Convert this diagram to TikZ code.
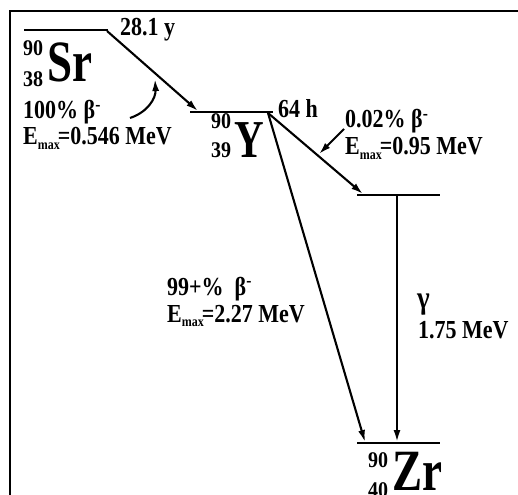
\documentclass[tikz,border=0pt]{standalone}
\usepackage{fontspec}
\setmainfont{Liberation Serif}
\usetikzlibrary{arrows.meta}
\newcommand{\Emx}[1]{E\raisebox{-4pt}{\fontsize{12}{12}\selectfont max}\kern-2pt=#1}
\begin{document}
\begin{tikzpicture}[x=1pt,y=-1pt,
  lvl/.style={line width=2.8pt},
  arr/.style={line width=2.1pt,-{Latex[length=12pt,width=7pt]}},
  frm/.style={line width=2.4pt},
  txt/.style={font=\fontsize{22}{24}\selectfont\bfseries, inner sep=0pt, anchor=base west, yscale=1.18},
  big/.style={font=\fontsize{45}{46}\selectfont\bfseries, inner sep=0pt, anchor=base west, yscale=1.3},
  idx/.style={font=\fontsize{20}{22}\selectfont\bfseries, inner sep=0pt, anchor=base west, yscale=1.12}]
\useasboundingbox (0,0) rectangle (518,494);
% frame
\coordinate (fTL) at (10,11);
\coordinate (fTR) at (520,11);
\coordinate (fBL) at (10,496);
\draw[frm] (fTR) -- (fTL) -- (fBL);
% levels
\coordinate (srA) at (24,30);   \coordinate (srB) at (108,30);
\coordinate (yA)  at (190,112); \coordinate (yB)  at (273,112);
\coordinate (exA) at (357,195); \coordinate (exB) at (440,195);
\coordinate (zrA) at (357,443); \coordinate (zrB) at (440,443);
\draw[lvl] (srA) -- (srB);
\draw[lvl] (yA) -- (yB);
\draw[lvl] (exA) -- (exB);
\draw[lvl] (zrA) -- (zrB);
% arrow end points
\coordinate (srOut) at (107,31);
\coordinate (yIn)   at (198,111);
\coordinate (yOut)  at (268,113);
\coordinate (exIn)  at (363,194);
\coordinate (zrIn)  at (365,442);
\coordinate (gTop)  at (397,195);
\coordinate (gBot)  at (397,442);
\coordinate (s1) at (344,129);
\coordinate (s2) at (319,154);
\coordinate (c1) at (130,118);
\coordinate (c2) at (155,79);
\draw[arr] (srOut) -- (yIn);
\draw[arr] (yOut) -- (exIn);
\draw[arr] (yOut) -- (zrIn);
\draw[arr] (gTop) -- (gBot);
\draw[arr] (s1) -- (s2);
\draw[arr] (c1) .. controls (148,112) and (156,98) .. (c2);
% labels
\node[txt] (tSr) at (120,36) {28.1 y};
\node[txt] (tY) at (278,118) {64 h};
\node[idx] (srm) at (23,56) {90};
\node[idx] (srz) at (23,87) {38};
\node[big] (sr) at (47,82) {Sr};
\node[idx] (ym) at (211,129) {90};
\node[idx] (yz) at (211,158) {39};
\node[big,font=\fontsize{41}{42}\selectfont\bfseries] (yy) at (234,158) {Y};
\node[idx] (zm) at (368,467) {90};
\node[idx] (zz) at (368,497) {40};
\node[big] (zr) at (392,490) {Zr};
\node[txt] (b1) at (23,119) {100\% β\textsuperscript{-}};
\node[txt] (e1) at (23,145) {\Emx{0.546 MeV}};
\node[txt] (b2) at (345,128) {0.02\% β\textsuperscript{-}};
\node[txt] (e2) at (345,155) {\Emx{0.95 MeV}};
\node[txt] (b3) at (167,295) {99+\%\ \ β\textsuperscript{-}};
\node[txt] (e3) at (167,322) {\Emx{2.27 MeV}};
\node[txt,font=\fontsize{27}{28}\selectfont\bfseries] (g) at (417,308) {γ};
\node[txt] (ge) at (418,338) {1.75 MeV};
\end{tikzpicture}
\end{document}
